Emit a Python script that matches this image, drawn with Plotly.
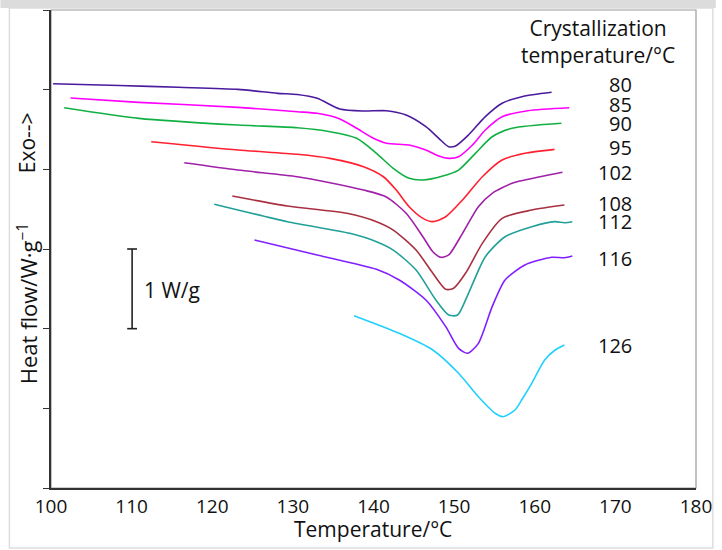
import plotly.graph_objects as go

# ---- data (temperature in °C, heat flow in W/g, arbitrary offset) ----
labels = ["80", "85", "90", "95", "102", "108", "112", "116", "126"]
colors = ["#4b1a9e", "#ff00ff", "#12b043", "#ff2030", "#a020a8",
          "#a83040", "#20a098", "#8020ff", "#20d0ff"]

t80 = [100.25, 108.47, 115.83, 123.19, 128.10, 130.55, 133.01, 135.83, 138.77, 141.60,
       144.05, 146.50, 148.10, 149.33, 150.18, 151.78, 153.87, 155.95, 158.40, 162.09]
h80 = [5.075, 5.052, 5.030, 5.004, 4.954, 4.939, 4.891, 4.757, 4.732, 4.736,
       4.682, 4.535, 4.389, 4.284, 4.293, 4.431, 4.661, 4.829, 4.912, 4.967]

t85 = [102.42, 110.92, 123.19, 130.55, 133.01, 135.83, 137.91, 140.00, 141.60, 144.42,
       146.50, 148.10, 149.33, 150.55, 152.27, 153.87, 155.95, 159.14, 164.29]
h85 = [4.895, 4.841, 4.778, 4.723, 4.703, 4.632, 4.515, 4.389, 4.327, 4.305,
       4.243, 4.167, 4.138, 4.158, 4.305, 4.494, 4.661, 4.736, 4.773]

t90 = [101.63, 110.92, 123.19, 130.55, 134.60, 137.91, 140.37, 142.45, 144.42, 146.13,
       148.59, 150.55, 152.64, 154.72, 157.18, 163.31]
h90 = [4.773, 4.640, 4.556, 4.522, 4.472, 4.389, 4.201, 4.013, 3.887, 3.866,
       3.916, 3.991, 4.201, 4.409, 4.515, 4.578]

t95 = [112.43, 123.19, 130.55, 134.60, 138.77, 141.23, 142.82, 144.42, 146.13, 147.36,
       148.96, 151.04, 153.50, 155.95, 158.77, 162.45]
h95 = [4.347, 4.243, 4.189, 4.138, 4.033, 3.907, 3.740, 3.531, 3.385, 3.343,
       3.405, 3.615, 3.907, 4.117, 4.201, 4.251]

t102 = [116.53, 123.19, 130.55, 134.60, 138.77, 141.60, 144.05, 146.13, 147.36, 148.34,
        149.33, 151.04, 153.01, 154.72, 157.18, 158.77, 163.44]
h102 = [4.083, 3.991, 3.907, 3.832, 3.740, 3.653, 3.448, 3.154, 2.966, 2.896,
        2.925, 3.197, 3.531, 3.699, 3.825, 3.866, 3.963]

t108 = [122.49, 129.33, 136.69, 140.37, 142.45, 145.28, 147.36, 148.96, 149.94, 151.41,
        153.50, 155.95, 159.63, 163.68]
h108 = [3.665, 3.540, 3.448, 3.343, 3.238, 2.987, 2.695, 2.494, 2.507, 2.695,
        3.071, 3.385, 3.489, 3.552]

t112 = [120.25, 129.33, 137.06, 140.37, 142.45, 145.28, 147.73, 149.33, 150.43, 151.78,
        153.87, 156.32, 159.63, 162.45, 163.68, 164.66]
h112 = [3.561, 3.343, 3.197, 3.092, 2.987, 2.736, 2.360, 2.171, 2.171, 2.444,
        2.903, 3.154, 3.280, 3.343, 3.330, 3.343]

t116 = [125.24, 133.01, 140.37, 143.19, 146.50, 148.96, 150.55, 151.66, 153.01, 154.72,
        156.32, 158.77, 162.09, 163.68, 164.66]
h116 = [3.113, 2.925, 2.745, 2.611, 2.360, 2.025, 1.753, 1.691, 1.816, 2.276,
        2.611, 2.799, 2.896, 2.891, 2.912]

t126 = [137.58, 143.19, 147.36, 150.55, 153.01, 155.09, 156.07, 157.55, 158.53, 159.63,
        161.23, 162.45, 163.68]
h126 = [2.163, 1.942, 1.732, 1.440, 1.146, 0.938, 0.895, 0.979, 1.130, 1.314,
        1.607, 1.726, 1.795]

label_y = [5.071, 4.820, 4.581, 4.268, 3.966, 3.577, 3.339, 2.887, 1.795]

x_ticks = [100, 110, 120, 130, 140, 150, 160, 170, 180]

series_t = [t80, t85, t90, t95, t102, t108, t112, t116, t126]
series_h = [h80, h85, h90, h95, h102, h108, h112, h116, h126]

FONT = "Open Sans, Noto Sans, DejaVu Sans, sans-serif"
TXT = "#111111"

fig = go.Figure()
for name, c, tx, hy in zip(labels, colors, series_t, series_h):
    fig.add_trace(go.Scatter(x=tx, y=hy, mode="lines", name=name,
                             line=dict(color=c, width=1.6, shape="spline", smoothing=0.7),
                             showlegend=False, hoverinfo="skip"))

# right-side labels
for name, yv in zip(labels, label_y):
    fig.add_annotation(x=172.3, y=yv, xref="x", yref="y", text=name, showarrow=False,
                       xanchor="right", yanchor="middle",
                       font=dict(family=FONT, size=20, color=TXT))

fig.add_annotation(x=167.9, y=5.61, xref="x", yref="y",
                   text="Crystallization<br>temperature/°C", showarrow=False,
                   xanchor="center", yanchor="middle", align="center",
                   font=dict(family=FONT, size=21, color=TXT))

# scale bar 1 W/g
fig.add_shape(type="line", x0=110.06, x1=110.06, y0=2.0, y1=3.0, xref="x", yref="y",
              line=dict(color="#222", width=1.6))
for yy in (2.0, 3.0):
    fig.add_shape(type="line", x0=109.45, x1=110.67, y0=yy, y1=yy, xref="x", yref="y",
                  line=dict(color="#222", width=1.6))
fig.add_annotation(x=111.3, y=2.49, xref="x", yref="y", text="1 W/g", showarrow=False,
                   xanchor="left", yanchor="middle",
                   font=dict(family=FONT, size=21, color=TXT))

# y-axis texts
W, H = 722, 550
L, R, T, B = 51, 20, 10, 62
pw, ph = W - L - R, H - T - B

def px(xp):
    return (xp - L) / pw

def py(yp):
    return (H - B - yp) / ph

fig.add_annotation(x=px(27), y=py(143), xref="paper", yref="paper", text="Exo-->",
                   showarrow=False, textangle=-90, xanchor="center", yanchor="middle",
                   font=dict(family=FONT, size=21, color=TXT))
fig.add_annotation(x=px(27), y=py(304), xref="paper", yref="paper",
                   text="Heat flow/W·g<sup>−1</sup>",
                   showarrow=False, textangle=-90, xanchor="center", yanchor="middle",
                   font=dict(family=FONT, size=22, color=TXT))
fig.add_annotation(x=px(376), y=py(529), xref="paper", yref="paper",
                   text="Temperature/°C", showarrow=False,
                   xanchor="center", yanchor="middle",
                   font=dict(family=FONT, size=21, color=TXT))

# frames
fig.add_shape(type="rect", xref="paper", yref="paper", x0=px(9), x1=px(719), y0=py(548), y1=py(8),
              line=dict(color="#dddddd", width=1.5), layer="below")
fig.add_shape(type="rect", xref="paper", yref="paper", x0=px(0), x1=px(722), y0=py(8), y1=py(0),
              line=dict(width=0), fillcolor="#dcdcdc", layer="below")
fig.add_shape(type="rect", xref="paper", yref="paper", x0=0, x1=1, y0=0, y1=1,
              line=dict(color="#999999", width=1.2), layer="below")

fig.update_layout(
    width=W, height=H,
    margin=dict(l=L, r=R, t=T, b=B),
    paper_bgcolor="white", plot_bgcolor="white",
    xaxis=dict(range=[100, 180], tickvals=x_ticks, showgrid=False, zeroline=False,
               showline=True, linecolor="#333", linewidth=1.6, ticks="",
               tickfont=dict(family=FONT, size=19, color=TXT)),
    yaxis=dict(range=[0, 6], dtick=1, showgrid=False, zeroline=False,
               showline=True, linecolor="#333", linewidth=1.6, ticks="outside",
               ticklen=6, tickcolor="#333", tickwidth=1.4, showticklabels=False),
)

fig.write_html("out.html")
